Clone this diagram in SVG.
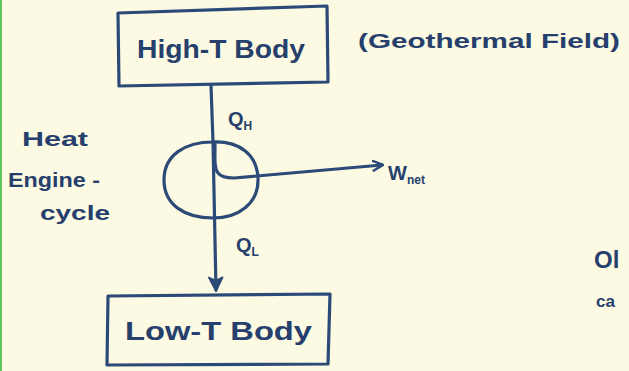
<svg xmlns="http://www.w3.org/2000/svg" width="629" height="371" viewBox="0 0 629 371">
<defs>
<style>
.ink{fill:none;stroke:#2c4a78;stroke-width:3.2;stroke-linecap:round;stroke-linejoin:round}
.t{font-family:"Liberation Sans",Arial,sans-serif;fill:#263f6c;font-weight:bold}
.big{font-size:25px}
.mid{font-size:20px}
.sub{font-size:12px}
</style>
<marker id="ah" viewBox="0 0 12 12" refX="10" refY="6" markerWidth="12" markerHeight="12" markerUnits="userSpaceOnUse" orient="auto">
<path d="M1,1 L11,6 L1,11" fill="none" stroke="#2c4a78" stroke-width="2.5" stroke-linecap="round" stroke-linejoin="round"/>
</marker>
<marker id="ahf" viewBox="0 0 14 14" refX="12" refY="7" markerWidth="16" markerHeight="16" markerUnits="userSpaceOnUse" orient="auto">
<path d="M1,1 L13,7 L1,13 L4,7 Z" fill="#2c4a78" stroke="#2c4a78" stroke-width="1.5" stroke-linejoin="round"/>
</marker>
</defs>
<rect width="629" height="371" fill="#fcfae2"/>
<rect x="0" y="0" width="2" height="371" fill="#5cc85c"/>
<g id="connectors">
<path class="ink" d="M211,85 L213,142 L216,290" marker-end="url(#ahf)"/>
<path class="ink" d="M215,143 C215,158 214,168 218,173 C221,177 226,178 234,178 L382,165" marker-end="url(#ah)"/>
</g>
<g id="high-t-body">
<path class="ink" d="M118,13 L327,6 L328,82 L119,86 Z"/>
<text class="t big" x="137" y="58" textLength="168" lengthAdjust="spacingAndGlyphs">High-T Body</text>
</g>
<g id="geothermal-note">
<text class="t mid" x="358" y="48" textLength="262" lengthAdjust="spacingAndGlyphs">(Geothermal Field)</text>
</g>
<g id="heat-engine">
<path class="ink" d="M213,142 C240,141 257,155 258,178 C259,204 238,218 213,218 C185,218 164,205 164,180 C164,155 185,142 213,142 Z"/>
<text class="t mid" x="22" y="146" textLength="66" lengthAdjust="spacingAndGlyphs">Heat</text>
<text class="t mid" x="8" y="187" textLength="92" lengthAdjust="spacingAndGlyphs">Engine -</text>
<text class="t mid" x="40" y="220" textLength="70" lengthAdjust="spacingAndGlyphs">cycle</text>
</g>
<g id="qh-label">
<text class="t mid" x="228" y="126">Q<tspan class="sub" dy="4">H</tspan></text>
</g>
<g id="wnet-label">
<text class="t mid" x="388" y="180" font-size="22">W<tspan class="sub" dy="4">net</tspan></text>
</g>
<g id="ql-label">
<text class="t mid" x="236" y="252">Q<tspan class="sub" dy="4">L</tspan></text>
</g>
<g id="low-t-body">
<path class="ink" d="M108,296 L330,294 L328,364 L107,365 Z"/>
<text class="t big" x="125" y="340" textLength="187" lengthAdjust="spacingAndGlyphs">Low-T Body</text>
</g>
<g id="edge-text">
<text class="t" style="font-size:24px" x="594" y="268">Ol</text>
<text class="t" style="font-size:17px" x="596" y="307">ca</text>
</g>
</svg>
